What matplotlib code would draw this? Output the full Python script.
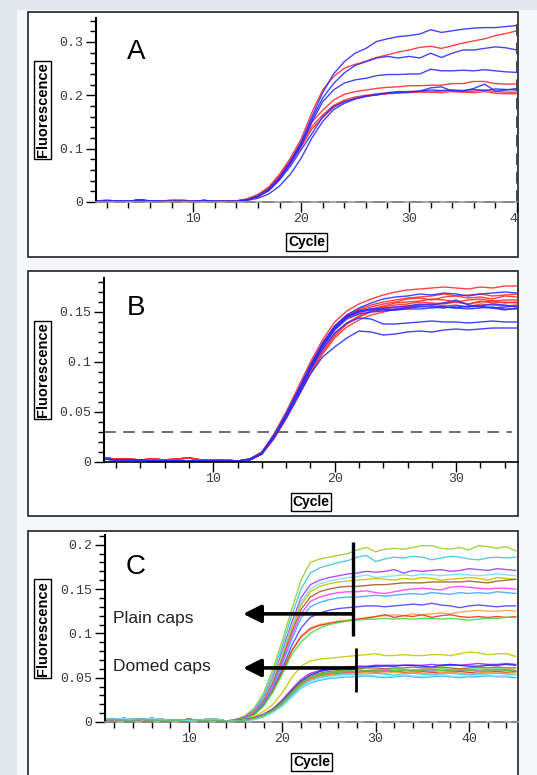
import matplotlib

matplotlib.use("Agg")
import matplotlib.pyplot as plt
import numpy as np
from matplotlib.patches import Rectangle
from matplotlib.ticker import FuncFormatter, MultipleLocator

# Fluorescence, in units of 0.001, one value per cycle.
# Each panel has flat baselines for the early cycles and the rest per curve.

# ---- panel A: cycles 1-40, curves start at cycle 14
a_cycles = np.arange(1, 41)
a_base_red = [2, 3, 2, 2, 3, 2, 2, 3, 3, 2, 2, 2, 2]
a_base_blue = [1, 2, 2, 1, 4, 2, 1, 1, 1, 1, 3, 1, 1]
a_red = [
    [2, 6, 14, 28, 52, 82, 118, 168, 210, 235, 251, 258, 264, 271, 276, 281, 285, 290, 292, 288, 293, 298, 302, 306, 312, 316, 321],
    [2, 5, 13, 26, 49, 78, 112, 150, 172, 191, 202, 207, 210, 213, 215, 216, 218, 218, 219, 219, 222, 222, 226, 226, 222, 221, 221],
    [2, 5, 12, 25, 47, 75, 107, 142, 163, 181, 191, 197, 200, 203, 205, 207, 207, 207, 206, 208, 209, 207, 208, 210, 207, 206, 206],
    [2, 5, 12, 24, 45, 72, 103, 137, 158, 177, 188, 194, 198, 201, 203, 204, 205, 206, 206, 205, 207, 206, 205, 207, 204, 203, 203],
]
a_blue = [
    [1, 4, 11, 24, 46, 76, 112, 160, 205, 240, 263, 279, 288, 301, 306, 310, 312, 315, 323, 318, 321, 324, 326, 327, 327, 329, 331],
    [1, 4, 11, 23, 44, 74, 108, 155, 195, 222, 242, 256, 263, 270, 273, 270, 273, 270, 279, 271, 279, 285, 285, 288, 291, 289, 285],
    [1, 4, 10, 22, 43, 72, 105, 150, 188, 210, 223, 229, 232, 237, 239, 239, 240, 240, 249, 246, 246, 247, 246, 248, 246, 244, 243],
    [1, 4, 10, 21, 41, 67, 98, 128, 160, 179, 188, 194, 199, 201, 204, 206, 206, 208, 214, 216, 208, 208, 213, 221, 208, 210, 213],
    [1, 3, 7, 15, 30, 52, 82, 120, 151, 173, 185, 193, 198, 201, 204, 206, 207, 208, 210, 209, 210, 209, 211, 209, 212, 211, 210],
]

# ---- panel B: cycles 1-35, curves start at cycle 12
b_cycles = np.arange(1, 36)
b_threshold = 0.03
b_base_red = [4, 3, 3, 2, 3, 2, 3, 4, 2, 2, 2]
b_base_blue = [3, 2, 2, 2, 1, 1, 1, 1, 1, 1, 1]
b_red = [
    [1, 3, 10, 28, 50, 75, 100, 122, 140, 151, 158, 163, 167, 170, 172, 173, 174, 175, 174, 173, 175, 174, 176, 176],
    [1, 3, 10, 27, 48, 72, 97, 119, 136, 147, 153, 157, 160, 162, 164, 165, 166, 168, 166, 167, 168, 166, 167, 168],
    [1, 3, 9, 26, 47, 71, 96, 118, 135, 146, 152, 155, 158, 160, 163, 164, 162, 165, 166, 164, 165, 163, 166, 165],
    [1, 2, 9, 26, 46, 70, 94, 116, 133, 144, 149, 153, 156, 159, 160, 161, 163, 162, 160, 162, 163, 161, 162, 162],
    [1, 2, 9, 25, 45, 68, 92, 112, 128, 139, 146, 151, 155, 157, 158, 160, 159, 158, 160, 158, 161, 159, 160, 159],
    [1, 2, 8, 24, 44, 67, 90, 110, 126, 138, 145, 150, 153, 155, 156, 157, 158, 156, 157, 155, 158, 157, 156, 157],
    [1, 2, 8, 23, 43, 65, 88, 108, 124, 135, 142, 147, 150, 153, 155, 157, 158, 159, 160, 158, 160, 161, 159, 160],
]
b_blue = [
    [1, 3, 9, 27, 48, 72, 97, 119, 136, 147, 154, 159, 163, 165, 166, 168, 167, 169, 168, 166, 168, 169, 170, 169],
    [1, 3, 9, 26, 47, 71, 95, 117, 134, 145, 151, 153, 154, 155, 156, 158, 157, 159, 162, 157, 156, 158, 157, 155],
    [1, 2, 9, 26, 46, 70, 94, 116, 133, 145, 150, 152, 152, 153, 154, 155, 156, 155, 154, 156, 155, 154, 152, 154],
    [1, 2, 8, 25, 46, 69, 93, 115, 132, 143, 148, 150, 151, 152, 153, 153, 154, 155, 154, 153, 154, 155, 153, 153],
    [1, 2, 9, 26, 47, 70, 94, 117, 134, 146, 151, 153, 153, 152, 154, 156, 155, 154, 156, 155, 156, 154, 155, 156],
    [1, 2, 8, 25, 45, 68, 92, 113, 129, 139, 144, 143, 138, 138, 139, 140, 141, 140, 140, 139, 140, 141, 140, 140],
    [1, 2, 8, 24, 44, 66, 88, 105, 115, 124, 131, 130, 127, 128, 130, 131, 130, 132, 133, 132, 133, 134, 134, 134],
]

# ---- panel C: cycles 1-45, curves start at cycle 14
c_cycles = np.arange(1, 46)
c_base_1 = [3, 3, 4, 3, 3, 4, 3, 2, 2, 2, 2, 3, 3]
c_base_2 = [2, 3, 2, 2, 3, 2, 2, 2, 2, 3, 2, 2, 2]
c_plain_colors = ["#9acd32", "#40c8d8", "#a040ff", "#70e4f4", "#c8c000", "#a0602a",
                  "#ff40ff", "#40a8ff", "#4848ff", "#ffa040", "#ff3030", "#40e040"]
c_plain = [
    [1, 3, 7, 16, 33, 60, 92, 127, 160, 180, 184, 186, 188, 190, 194, 197, 192, 195, 196, 195, 197, 199, 199, 196, 195, 197, 194, 199, 198, 196, 198, 193],
    [1, 3, 6, 14, 30, 55, 86, 120, 150, 168, 174, 177, 180, 182, 186, 188, 181, 184, 186, 185, 187, 186, 183, 185, 187, 186, 184, 183, 185, 186, 185, 186],
    [1, 2, 6, 13, 27, 50, 80, 112, 140, 155, 160, 163, 165, 167, 168, 170, 169, 170, 172, 168, 171, 170, 171, 172, 170, 171, 173, 172, 171, 173, 172, 171],
    [1, 2, 5, 12, 26, 48, 77, 108, 135, 150, 156, 159, 161, 163, 164, 166, 163, 164, 165, 166, 165, 167, 166, 165, 166, 167, 166, 165, 166, 167, 166, 165],
    [1, 2, 5, 12, 25, 46, 74, 105, 132, 147, 153, 156, 158, 159, 160, 161, 162, 161, 160, 162, 161, 163, 162, 160, 161, 162, 163, 162, 160, 163, 162, 161],
    [1, 2, 5, 11, 24, 44, 71, 101, 127, 141, 147, 150, 152, 153, 153, 154, 155, 155, 156, 157, 157, 157, 158, 158, 158, 158, 159, 158, 157, 159, 160, 161],
    [1, 2, 5, 11, 23, 42, 68, 97, 122, 136, 141, 144, 146, 147, 147, 148, 146, 145, 147, 149, 150, 151, 150, 149, 152, 153, 152, 151, 150, 151, 151, 150],
    [1, 2, 5, 10, 22, 40, 65, 93, 117, 130, 135, 138, 140, 141, 141, 142, 143, 142, 143, 144, 145, 144, 146, 145, 144, 146, 145, 146, 145, 147, 146, 145],
    [1, 2, 4, 9, 20, 37, 60, 86, 106, 118, 123, 126, 128, 129, 130, 131, 131, 130, 131, 132, 133, 132, 134, 132, 131, 129, 131, 132, 131, 130, 131, 131],
    [1, 2, 4, 9, 19, 35, 57, 80, 97, 106, 110, 112, 114, 115, 116, 118, 119, 120, 121, 120, 122, 121, 122, 123, 122, 124, 125, 126, 125, 125, 126, 125],
    [1, 2, 4, 9, 19, 35, 57, 80, 96, 105, 109, 111, 113, 114, 116, 117, 119, 121, 118, 120, 119, 121, 118, 120, 121, 119, 118, 119, 118, 119, 118, 119],
    [1, 2, 4, 8, 18, 34, 54, 76, 90, 100, 106, 110, 112, 114, 115, 116, 116, 117, 116, 117, 116, 117, 117, 116, 117, 116, 115, 116, 117, 117, 118, 118],
]
c_domed_colors = ["#c8c800", "#9030ff", "#2020ff", "#a06020", "#30e030", "#ff2020",
                  "#ff40ff", "#ffa030", "#40d0e0", "#40a8ff", "#80e8ff", "#60c040"]
c_domed = [
    [1, 2, 3, 6, 12, 20, 33, 50, 63, 69, 71, 72, 73, 74, 75, 76, 77, 75, 75, 76, 75, 75, 76, 76, 75, 77, 79, 78, 76, 77, 77, 74],
    [1, 2, 3, 5, 9, 15, 25, 37, 48, 55, 58, 60, 61, 62, 63, 63, 64, 64, 64, 64, 64, 64, 65, 64, 64, 64, 65, 66, 65, 65, 66, 65],
    [1, 1, 2, 4, 8, 14, 23, 35, 46, 53, 57, 59, 60, 61, 62, 62, 63, 63, 63, 64, 64, 63, 62, 64, 65, 64, 63, 63, 64, 64, 65, 64],
    [1, 1, 2, 4, 8, 14, 23, 34, 45, 52, 55, 57, 58, 59, 60, 61, 61, 60, 61, 61, 62, 61, 61, 62, 61, 60, 61, 62, 61, 62, 61, 61],
    [1, 1, 2, 4, 8, 13, 22, 33, 44, 50, 54, 56, 57, 58, 59, 58, 59, 59, 60, 59, 58, 59, 59, 60, 59, 58, 59, 60, 59, 60, 59, 58],
    [1, 1, 2, 4, 7, 13, 21, 32, 42, 49, 52, 54, 55, 56, 56, 57, 56, 57, 58, 56, 55, 57, 56, 55, 56, 57, 56, 55, 56, 57, 56, 57],
    [1, 1, 2, 4, 7, 12, 21, 32, 43, 50, 53, 55, 56, 57, 57, 58, 57, 58, 57, 58, 57, 58, 59, 58, 57, 58, 59, 58, 57, 59, 59, 58],
    [1, 1, 2, 3, 7, 12, 20, 31, 41, 48, 51, 53, 54, 55, 55, 56, 55, 55, 56, 55, 56, 55, 54, 55, 56, 55, 54, 55, 56, 55, 55, 56],
    [1, 1, 2, 3, 6, 12, 19, 30, 40, 47, 50, 52, 53, 54, 54, 54, 55, 54, 53, 54, 55, 54, 53, 54, 55, 54, 53, 54, 54, 55, 54, 54],
    [1, 1, 2, 3, 6, 11, 18, 28, 38, 44, 47, 49, 50, 51, 51, 52, 51, 50, 51, 52, 51, 50, 51, 52, 51, 50, 51, 51, 52, 51, 51, 50],
    [1, 1, 2, 3, 6, 11, 18, 28, 38, 45, 48, 50, 51, 52, 52, 53, 52, 51, 52, 53, 52, 51, 52, 53, 52, 51, 52, 53, 52, 52, 52, 53],
    [1, 1, 2, 4, 7, 13, 21, 32, 43, 50, 53, 55, 56, 57, 57, 58, 58, 57, 58, 58, 59, 58, 57, 58, 58, 59, 58, 57, 58, 59, 58, 58],
]

# ---- layout, in pixels of the 537x775 picture
W, H = 537, 775
RED, BLUE = "#ff2e2e", "#2e2eff"
PAGE, STRIP = "#f6f7fa", "#e3e8ef"
MONO = "Liberation Mono"
SANS = "Liberation Sans"


def fx(x):
    return x / W


def fy(y):
    return 1 - y / H


def add_panel(box, axes_px, xlim, ylim, ymajor, yminor, letter, letter_xy):
    x0, y0, x1, y1 = box
    fig.add_artist(Rectangle((fx(x0), fy(y1)), (x1 - x0) / W, (y1 - y0) / H,
                             transform=fig.transFigure, facecolor="white",
                             edgecolor="#222222", lw=1.2, zorder=-1))
    left, top, right, bottom = axes_px
    ax = fig.add_axes([fx(left), fy(bottom), (right - left) / W, (bottom - top) / H])
    ax.set_facecolor("none")
    ax.set_xlim(*xlim)
    ax.set_ylim(*ylim)
    for side in ("top", "right"):
        ax.spines[side].set_visible(False)
    ax.spines["left"].set_linewidth(1.5)
    ax.spines["bottom"].set_linewidth(1.2)
    ax.xaxis.set_major_locator(MultipleLocator(10))
    ax.xaxis.set_minor_locator(MultipleLocator(2))
    ax.yaxis.set_major_locator(MultipleLocator(ymajor))
    ax.yaxis.set_minor_locator(MultipleLocator(yminor))
    ax.yaxis.set_major_formatter(FuncFormatter(lambda v, p: "0" if abs(v) < 1e-9 else f"{v:g}"))
    ax.tick_params(which="major", length=7, width=1, color="black", labelcolor="#3a3a3a",
                   labelsize=9.5)
    ax.tick_params(which="minor", length=4.5, width=1, color="black")
    ax.tick_params(axis="x", pad=1)
    ax.tick_params(axis="y", pad=2)
    for lab in ax.get_xticklabels() + ax.get_yticklabels():
        lab.set_fontfamily(MONO)
    fig.text(fx(42.5), fy((top + bottom) / 2), "Fluorescence", rotation=90,
             ha="center", va="center", fontsize=10.5, fontweight="bold", family=SANS,
             bbox=dict(boxstyle="square,pad=0.12", fc="white", ec="black", lw=1))
    fig.text(fx((left + right) / 2), fy(bottom + 40), "Cycle", ha="center", va="center",
             fontsize=10, fontweight="bold", family=SANS,
             bbox=dict(boxstyle="square,pad=0.12", fc="white", ec="black", lw=1))
    fig.text(fx(letter_xy[0]), fy(letter_xy[1]), letter, ha="center", va="center",
             fontsize=20, family=SANS)
    return ax


def draw(ax, cycles, base, curves, color):
    for curve in curves:
        vals = np.array(base + curve) / 1000
        ax.plot(cycles, vals, color=color, lw=1.0, alpha=0.9)


DASH = (0, (6, 3.5))

fig = plt.figure(figsize=(W / 100, H / 100), dpi=100, facecolor=PAGE)
fig.add_artist(Rectangle((0, 0), fx(17), 1, transform=fig.transFigure,
                         facecolor=STRIP, edgecolor="none", zorder=-2))
fig.add_artist(Rectangle((0, fy(10)), 1, 10 / H, transform=fig.transFigure,
                         facecolor=STRIP, edgecolor="none", zorder=-2))

# A
ax_a = add_panel((28, 12, 518, 257), (96, 18, 517, 202), (1, 40), (0, 0.345),
                 0.1, 0.02, "A", (136, 52))
ax_a.spines["bottom"].set_color("#999999")
for base, curves, color in ((a_base_red, a_red, RED), (a_base_blue, a_blue, BLUE)):
    draw(ax_a, a_cycles, base, curves, color)
ax_a.axhline(0, color="#333333", lw=1.4, ls=DASH, clip_on=False)
ax_a.axvline(40, color="#444444", lw=1.4, ls=DASH, clip_on=False)
# hide what sticks out past the right border of panel A ("40" label)
fig.add_artist(Rectangle((fx(519), fy(257)), fx(537) - fx(519), 240 / H,
                         transform=fig.transFigure, facecolor=PAGE,
                         edgecolor="none", zorder=5))

# B
ax_b = add_panel((28, 271, 518, 516), (104, 278, 518, 462), (1, 35.1), (0, 0.184),
                 0.05, 0.01, "B", (136, 308))
for base, curves, color in ((b_base_red, b_red, RED), (b_base_blue, b_blue, BLUE)):
    draw(ax_b, b_cycles, base, curves, color)
ax_b.axhline(b_threshold, xmax=0.985, color="#555555", lw=1.2, ls=(0, (7, 4.5)))

# C
ax_c = add_panel((28, 531, 518, 790), (105, 535, 518, 722), (1, 45.25), (0, 0.211),
                 0.05, 0.01, "C", (136, 567))
ax_c.spines["bottom"].set_color("#999999")
for k, curve in enumerate(c_plain):
    draw(ax_c, c_cycles, c_base_1 if k % 2 else c_base_2, [curve], c_plain_colors[k])
for k, curve in enumerate(c_domed):
    draw(ax_c, c_cycles, c_base_2 if k % 2 else c_base_1, [curve], c_domed_colors[k])
ax_c.axhline(0, color="#333333", lw=1.4, ls=DASH, clip_on=False)

# group markers and arrows
arrow = dict(arrowstyle="-|>,head_length=0.9,head_width=0.45", color="black",
             lw=2.6, mutation_scale=12, shrinkA=0, shrinkB=0)
ax_c.plot([27.6, 27.6], [0.097, 0.203], color="black", lw=2.4, solid_capstyle="butt")
ax_c.plot([27.9, 27.9], [0.034, 0.0835], color="black", lw=2.0, solid_capstyle="butt")
ax_c.annotate("", xy=(15.8, 0.122), xytext=(27.6, 0.122), arrowprops=arrow)
ax_c.annotate("", xy=(15.8, 0.061), xytext=(27.9, 0.061), arrowprops=arrow)
fig.text(fx(113), fy(619), "Plain caps", ha="left", va="center", fontsize=12.5,
         family=SANS, color="#222222")
fig.text(fx(113), fy(667), "Domed caps", ha="left", va="center", fontsize=12.5,
         family=SANS, color="#222222")

fig.savefig("out.png", dpi=100, facecolor=PAGE)
